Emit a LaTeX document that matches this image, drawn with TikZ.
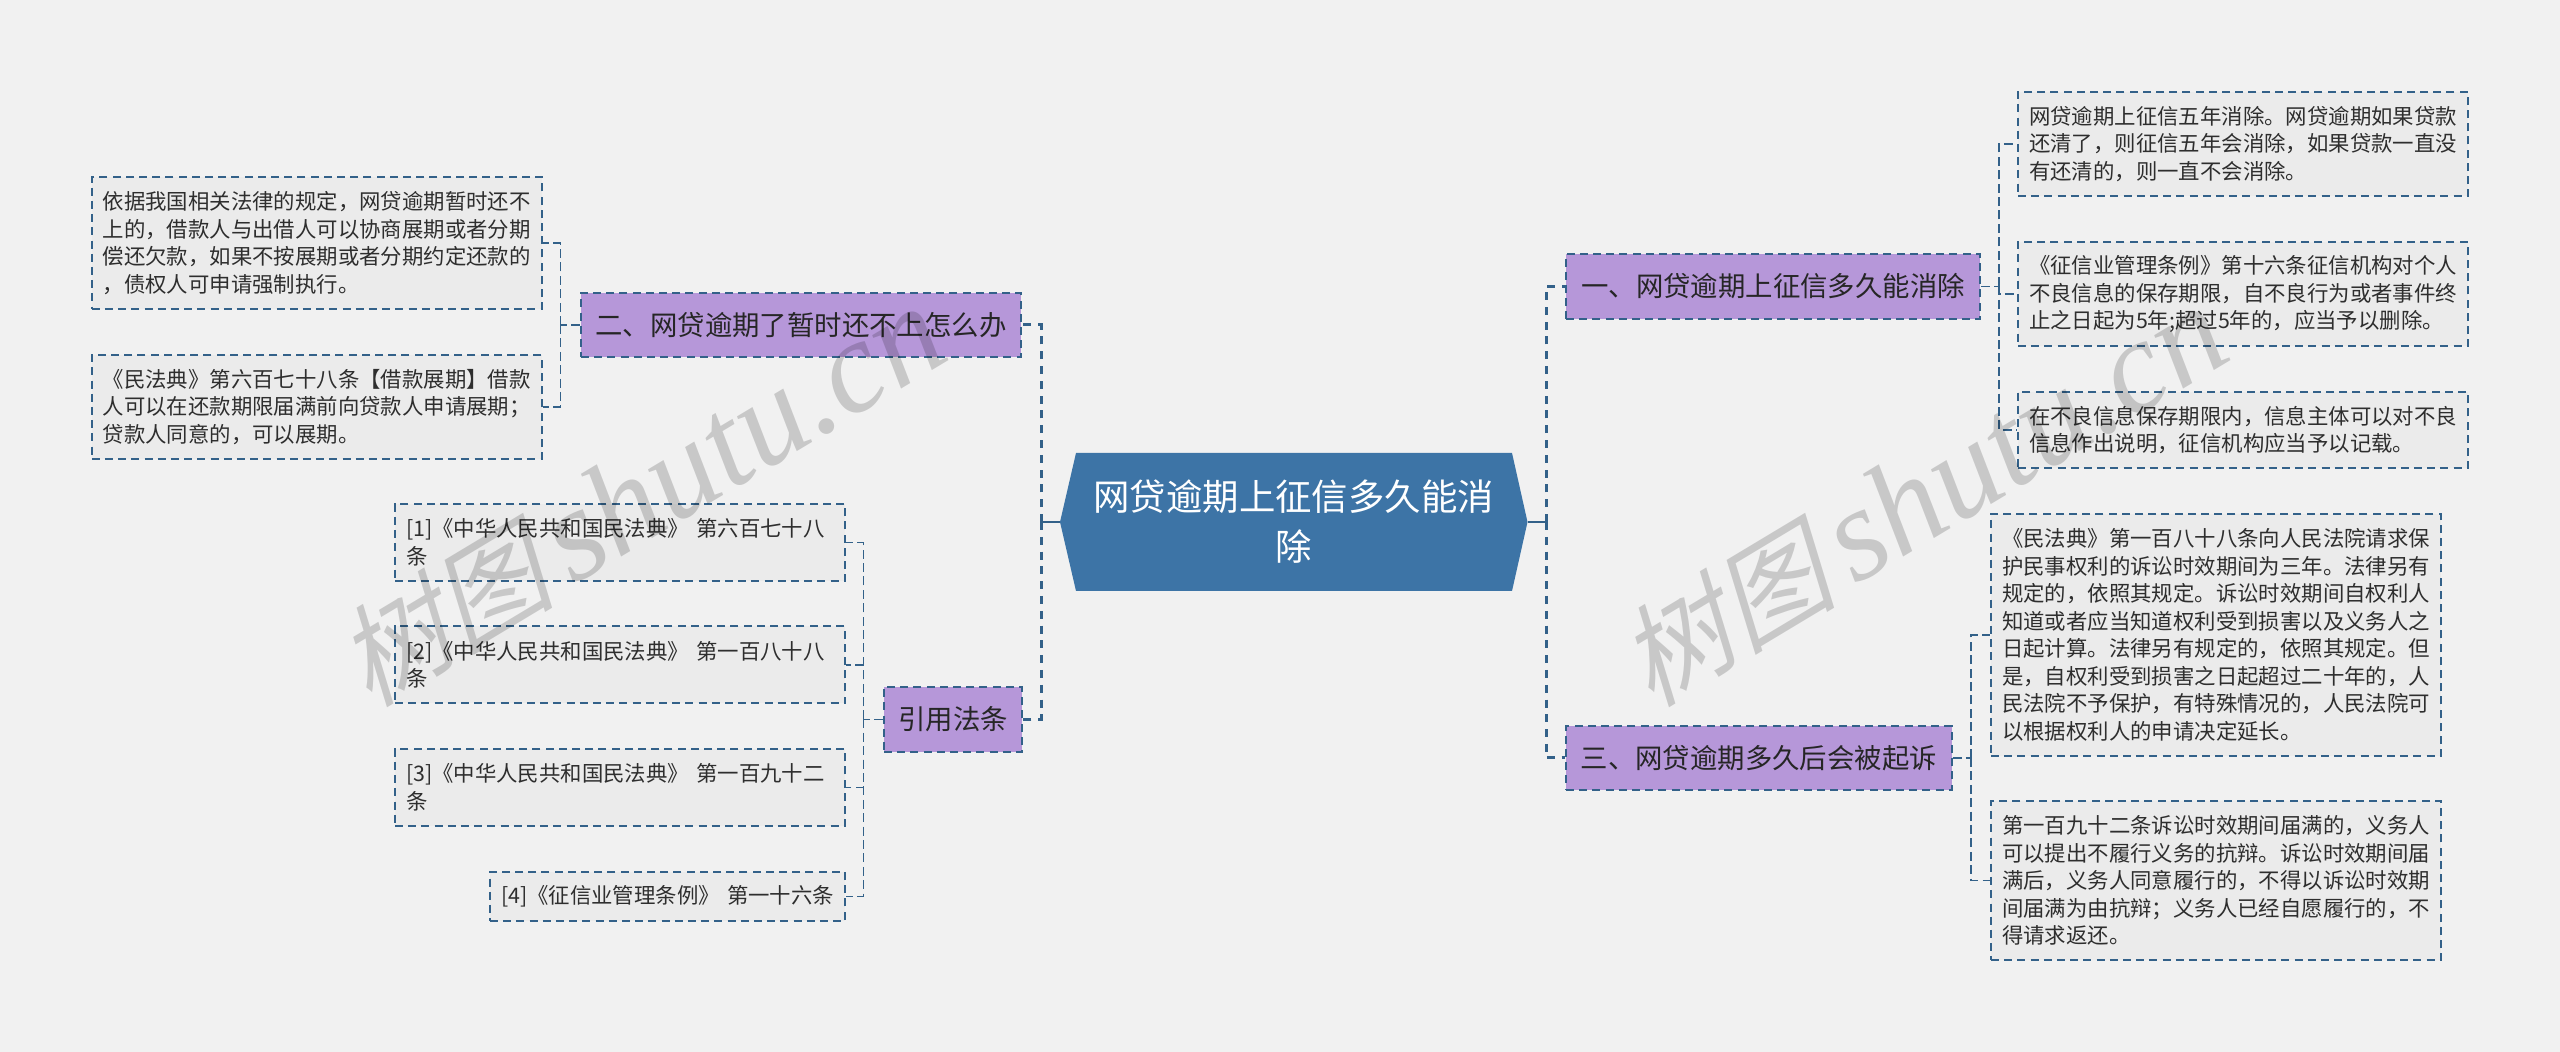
\documentclass[tikz,border=0pt]{standalone}
\usepackage{fontspec}
\setmainfont{Noto Sans CJK SC}
\newfontfamily\wmcjk[FakeSlant=0.25]{Noto Sans CJK SC}
\newfontfamily\wmlat{Liberation Serif}
\definecolor{bgc}{HTML}{F1F1F1}
\definecolor{leaffill}{HTML}{EBEBEB}
\definecolor{purp}{HTML}{B697D9}
\definecolor{mainc}{HTML}{3D74A6}
\definecolor{dashc}{HTML}{336189}
\definecolor{inkc}{HTML}{2E2E2E}
\tikzset{
  leaf/.style={draw=dashc,fill=leaffill,line width=1pt,dash pattern=on 4pt off 2.6pt,
    inner xsep=5.5pt,inner ysep=0pt,align=left,text=inkc,
    font=\fontsize{10.7}{13.75}\selectfont},
  branch/.style={draw=dashc,fill=purp,line width=1pt,dash pattern=on 4pt off 2.6pt,
    inner sep=0pt,align=center,text=black!85,
    font=\fontsize{13.7}{17}\selectfont},
  mainnode/.style={inner sep=0pt,minimum width=233.75pt,minimum height=69pt,align=center,text=white,
    font=\fontsize{18.2}{25}\selectfont},
  busline/.style={draw=dashc,line width=1.5pt,dash pattern=on 4pt off 3.4pt},
  stemline/.style={draw=dashc,line width=1.1pt},
  subline/.style={draw=dashc,line width=0.8pt,dash pattern=on 4.5pt off 2.2pt},
  wmark/.style={text=black,opacity=0.17,rotate=31,inner sep=0pt}
}
\newcommand{\wmtext}{{\fontsize{55}{62}\selectfont\wmcjk 树图}\hspace{9pt}{\fontsize{66}{62}\selectfont\wmlat\itshape shutu.cn}}
\begin{document}
\begin{tikzpicture}[x=0.5pt,y=-0.5pt]
\useasboundingbox (0,0) rectangle (2560,1052);
\fill[bgc] (0,0) rectangle (2560,1052);

% main
\fill[mainc] (1060,522) -- (1076,453) -- (1512,453) -- (1527.5,522) -- (1512,591) -- (1076,591) -- cycle;
\node[mainnode] (main) at (1293.75,522) {网贷逾期上征信多久能消\\除};

% branches
\node[branch,minimum width=220pt,minimum height=32pt] (n2) at (801,325) {二、网贷逾期了暂时还不上怎么办};
\node[branch,minimum width=69pt,minimum height=32.5pt] (n4) at (953,719.5) {引用法条};
\node[branch,minimum width=207pt,minimum height=32.5pt] (n1) at (1773,286.5) {一、网贷逾期上征信多久能消除};
\node[branch,minimum width=192.75pt,minimum height=32pt] (n3) at (1758.75,758) {三、网贷逾期多久后会被起诉};

% leaves left
\node[leaf,text width=214pt,minimum height=66pt] (a1) at (316.75,243) {依据我国相关法律的规定，网贷逾期暂时还不\\上的，借款人与出借人可以协商展期或者分期\\偿还欠款，如果不按展期或者分期约定还款的\\，债权人可申请强制执行。};
\node[leaf,text width=214pt,minimum height=52pt] (a2) at (316.75,407) {《民法典》第六百七十八条【借款展期】借款\\人可以在还款期限届满前向贷款人申请展期；\\贷款人同意的，可以展期。};
\node[leaf,text width=214pt,minimum height=38.5pt] (r1) at (620,542.5) {[1]《中华人民共和国民法典》 第六百七十八\\条};
\node[leaf,text width=214pt,minimum height=38.5pt] (r2) at (620,665) {[2]《中华人民共和国民法典》 第一百八十八\\条};
\node[leaf,text width=214pt,minimum height=38.5pt] (r3) at (620,787.5) {[3]《中华人民共和国民法典》 第一百九十二\\条};
\node[leaf,text width=166.5pt,minimum height=24.5pt] (r4) at (667.5,896.5) {\mbox{[4]《征信业管理条例》 第一十六条}};

% leaves right
\node[leaf,text width=214pt,minimum height=52pt] (b1) at (2243,144) {网贷逾期上征信五年消除。网贷逾期如果贷款\\还清了，则征信五年会消除，如果贷款一直没\\有还清的，则一直不会消除。};
\node[leaf,text width=214pt,minimum height=52pt] (b2) at (2243,294) {《征信业管理条例》第十六条征信机构对个人\\不良信息的保存期限，自不良行为或者事件终\\止之日起为5年;超过5年的，应当予以删除。};
\node[leaf,text width=214pt,minimum height=38pt] (b3) at (2243,430) {在不良信息保存期限内，信息主体可以对不良\\信息作出说明，征信机构应当予以记载。};
\node[leaf,text width=214pt,minimum height=121pt] (c1) at (2216,635) {《民法典》第一百八十八条向人民法院请求保\\护民事权利的诉讼时效期间为三年。法律另有\\规定的，依照其规定。诉讼时效期间自权利人\\知道或者应当知道权利受到损害以及义务人之\\日起计算。法律另有规定的，依照其规定。但\\是，自权利受到损害之日起超过二十年的，人\\民法院不予保护，有特殊情况的，人民法院可\\以根据权利人的申请决定延长。};
\node[leaf,text width=214pt,minimum height=79.5pt] (c2) at (2216,880.5) {第一百九十二条诉讼时效期间届满的，义务人\\可以提出不履行义务的抗辩。诉讼时效期间届\\满后，义务人同意履行的，不得以诉讼时效期\\间届满为由抗辩；义务人已经自愿履行的，不\\得请求返还。};

% bus points
\coordinate (busL) at (1041,522);
\coordinate (busR) at (1546,522);
\coordinate (bus2) at (560.5,325);
\coordinate (bus4) at (863.5,719.5);
\coordinate (bus1) at (1999,286.5);
\coordinate (bus3) at (1971,758);

% main connectors
\draw[stemline] (main.west) -- (busL);
\draw[stemline] (main.east) -- (busR);
\draw[busline] (busL) |- (n2.east);
\draw[busline] (busL) |- (n4.east);
\draw[busline] (busR) |- (n1.west);
\draw[busline] (busR) |- (n3.west);

% branch to leaves
\draw[subline] (n2.west) -- (bus2);
\draw[subline] (bus2) |- (a1.east);
\draw[subline] (bus2) |- (a2.east);
\draw[subline] (n4.west) -- (bus4);
\draw[subline] (bus4) |- (r1.east);
\draw[subline] (bus4) |- (r2.east);
\draw[subline] (bus4) |- (r3.east);
\draw[subline] (bus4) |- (r4.east);
\draw[subline] (n1.east) -- (bus1);
\draw[subline] (bus1) |- (b1.west);
\draw[subline] (bus1) |- (b2.west);
\draw[subline] (bus1) |- (b3.west);
\draw[subline] (n3.east) -- (bus3);
\draw[subline] (bus3) |- (c1.west);
\draw[subline] (bus3) |- (c2.west);

% watermark
\node[wmark] (wm1) at (640,497) {\wmtext};
\node[wmark] (wm2) at (1922,497) {\wmtext};
\end{tikzpicture}
\end{document}
